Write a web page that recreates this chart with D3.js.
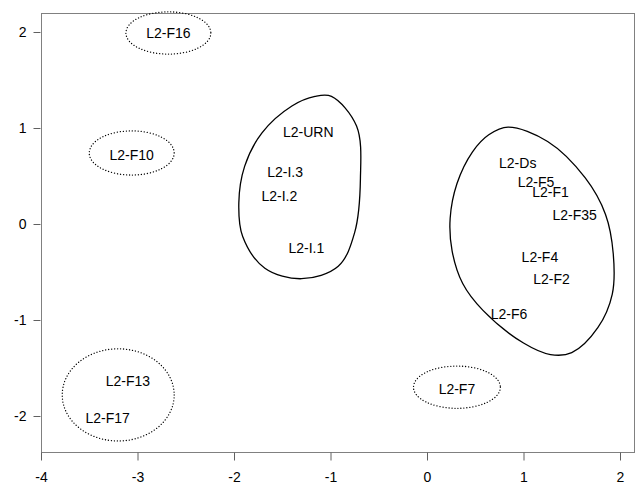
<!DOCTYPE html>
<html>
<head>
<meta charset="utf-8">
<script src="https://cdn.jsdelivr.net/npm/d3@7"></script>
<style>
  body { margin: 0; background: #fff; }
  svg text { font-family: "Liberation Sans", Arial, sans-serif; font-size: 14px; fill: #000; }
</style>
</head>
<body>
<div id="element"></div>
<script>
// point labels and their positions
var labelNames = ["L2-F16", "L2-F10", "L2-URN", "L2-I.3", "L2-I.2", "L2-I.1",
                  "L2-Ds", "L2-F5", "L2-F1", "L2-F35", "L2-F4", "L2-F2", "L2-F6",
                  "L2-F13", "L2-F17", "L2-F7"];
var labelX = [-2.68, -3.06, -1.23, -1.47, -1.53, -1.25,
              0.94, 1.13, 1.28, 1.53, 1.17, 1.29, 0.85,
              -3.10, -3.31, 0.31];
var labelY = [1.99, 0.72, 0.96, 0.54, 0.29, -0.25,
              0.64, 0.44, 0.33, 0.09, -0.34, -0.57, -0.94,
              -1.64, -2.02, -1.72];

// solid outlines (group contours)
var groupI = [[-0.99, 1.33], [-0.73, 1.02], [-0.69, 0.47], [-0.75, -0.09], [-0.92, -0.44],
              [-1.30, -0.57], [-1.68, -0.46], [-1.91, -0.13], [-1.95, 0.22], [-1.89, 0.60],
              [-1.71, 0.95], [-1.40, 1.23], [-1.16, 1.33]];
var groupF = [[0.84, 1.01], [1.25, 0.86], [1.64, 0.48], [1.85, 0.10], [1.93, -0.31],
              [1.92, -0.73], [1.77, -1.08], [1.50, -1.34], [1.28, -1.36], [1.00, -1.24],
              [0.58, -0.90], [0.37, -0.62], [0.26, -0.28], [0.24, 0.06], [0.31, 0.42],
              [0.47, 0.75], [0.64, 0.93]];

// dotted ellipses: centre x, centre y, radius x, radius y
var ovalCx = [-2.68, -3.06, -3.20, 0.31];
var ovalCy = [1.99, 0.74, -1.78, -1.70];
var ovalRx = [0.44, 0.44, 0.58, 0.45];
var ovalRy = [0.22, 0.23, 0.48, 0.22];

var xTicks = [-4, -3, -2, -1, 0, 1, 2];
var yTicks = [-2, -1, 0, 1, 2];

(function () {
  var width = 638, height = 486;
  var left = 41, right = 634, top = 13, bottom = 452;

  var svg = d3.select("#element").append("svg")
    .attr("width", width)
    .attr("height", height);

  var x = d3.scaleLinear().domain([-4, 2.145]).range([left, right]);
  var y = d3.scaleLinear().domain([-2.375, 2.198]).range([bottom, top]);

  // frame
  svg.append("rect")
    .attr("x", left + 0.5).attr("y", top + 0.5)
    .attr("width", right - left).attr("height", bottom - top)
    .attr("fill", "none").attr("stroke", "#808080").attr("stroke-width", 1);

  // axes (plain hyphen for negatives, like the original)
  var fmt = function (d) { return String(d); };
  var xAxis = svg.append("g")
    .attr("transform", "translate(0," + (bottom + 0.5) + ")")
    .call(d3.axisBottom(x).tickValues(xTicks).tickSize(8).tickPadding(12).tickFormat(fmt));
  var yAxis = svg.append("g")
    .attr("transform", "translate(" + (left - 0.5) + ",0)")
    .call(d3.axisLeft(y).tickValues(yTicks).tickSize(7).tickPadding(7).tickFormat(fmt));

  [xAxis, yAxis].forEach(function (g) {
    g.select(".domain").remove();
    g.selectAll(".tick line").attr("stroke", "#606060");
    g.selectAll(".tick text").attr("font-size", 14).style("font-family", "Liberation Sans, Arial, sans-serif");
  });
  yAxis.selectAll(".tick text").attr("dy", "0.35em");

  // solid contours
  var line = d3.line()
    .x(function (d) { return x(d[0]); })
    .y(function (d) { return y(d[1]); })
    .curve(d3.curveCatmullRomClosed.alpha(0.5));

  svg.selectAll(".group")
    .data([groupI, groupF])
    .enter().append("path")
    .attr("class", "group")
    .attr("d", line)
    .attr("fill", "none")
    .attr("stroke", "#000")
    .attr("stroke-width", 1.3);

  // dotted ovals
  svg.selectAll(".oval")
    .data(ovalCx)
    .enter().append("ellipse")
    .attr("class", "oval")
    .attr("cx", function (d) { return x(d); })
    .attr("cy", function (d, i) { return y(ovalCy[i]); })
    .attr("rx", function (d, i) { return x(d + ovalRx[i]) - x(d); })
    .attr("ry", function (d, i) { return y(ovalCy[i] - ovalRy[i]) - y(ovalCy[i]); })
    .attr("fill", "none")
    .attr("stroke", "#000")
    .attr("stroke-width", 1.3)
    .attr("stroke-linecap", "round")
    .attr("stroke-dasharray", "0.1 2.9");

  // labels
  svg.selectAll(".lab")
    .data(labelNames)
    .enter().append("text")
    .attr("class", "lab")
    .attr("x", function (d, i) { return x(labelX[i]); })
    .attr("y", function (d, i) { return y(labelY[i]); })
    .attr("dy", "0.36em")
    .attr("text-anchor", "middle")
    .text(function (d) { return d; });
})();
</script>
</body>
</html>
